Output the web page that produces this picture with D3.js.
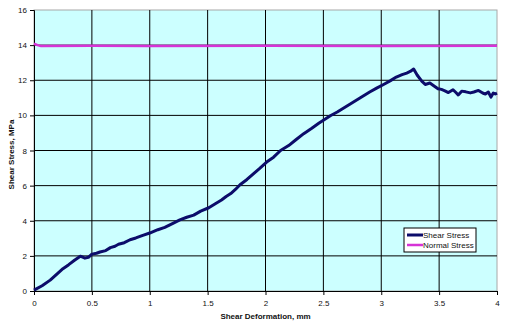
<!DOCTYPE html>
<html>
<head>
<meta charset="utf-8">
<script src="https://cdn.jsdelivr.net/npm/d3@7"></script>
<style>
  body { margin: 0; background: #fff; }
  svg { display: block; font-family: "Liberation Sans", Arial, sans-serif; }
  .tick text { font-size: 8px; fill: #111; }
  .axis-title { font-size: 8px; font-weight: bold; fill: #111; }
</style>
</head>
<body>
<div id="app"></div>
<script>
const MARGIN = { top: 10, right: 10, bottom: 36, left: 34 }
const OUTER = { width: 507, height: 327 }
const INNER = {
  width: OUTER.width - MARGIN.left - MARGIN.right,
  height: OUTER.height - MARGIN.top - MARGIN.bottom,
};

// shear deformation (mm) and shear stress (MPa)
const shearX = [0, 0.07, 0.14, 0.2, 0.25, 0.3, 0.35, 0.4, 0.44, 0.47, 0.5, 0.54, 0.57, 0.62, 0.66, 0.7, 0.73, 0.78,
  0.83, 0.88, 0.94, 1.0, 1.07, 1.13, 1.2, 1.26, 1.32, 1.38, 1.44, 1.51, 1.57, 1.62, 1.66, 1.7, 1.74, 1.78, 1.84, 1.9,
  1.95, 2.01, 2.07, 2.13, 2.2, 2.26, 2.33, 2.4, 2.46, 2.5, 2.56, 2.62, 2.69, 2.76, 2.83, 2.9, 2.96, 3.02, 3.08, 3.13,
  3.18, 3.22, 3.25, 3.28, 3.31, 3.35, 3.38, 3.42, 3.45, 3.49, 3.52, 3.55, 3.58, 3.62, 3.645, 3.665, 3.695, 3.73, 3.77,
  3.8, 3.84, 3.88, 3.9, 3.925, 3.948, 3.968, 3.985, 4.0];
const shearY = [0.05, 0.3, 0.62, 0.98, 1.27, 1.5, 1.75, 1.98, 1.87, 1.92, 2.1, 2.15, 2.22, 2.3, 2.47, 2.55, 2.66, 2.75,
  2.92, 3.02, 3.17, 3.3, 3.49, 3.62, 3.85, 4.05, 4.2, 4.32, 4.55, 4.74, 4.98, 5.18, 5.38, 5.55, 5.78, 6.05, 6.35, 6.7,
  6.98, 7.34, 7.62, 8.0, 8.28, 8.6, 8.96, 9.27, 9.55, 9.72, 9.98, 10.19, 10.48, 10.76, 11.05, 11.33, 11.55, 11.76,
  11.98, 12.18, 12.32, 12.41, 12.5, 12.64, 12.3, 11.95, 11.76, 11.84, 11.7, 11.52, 11.48, 11.4, 11.3, 11.46, 11.3,
  11.16, 11.38, 11.34, 11.28, 11.33, 11.42, 11.26, 11.22, 11.33, 11.04, 11.27, 11.22, 11.27];

// normal stress (MPa)
const normalX = [0, 0.03, 0.06, 0.5, 1, 2, 3, 4];
const normalY = [14.08, 14.0, 13.95, 13.96, 13.95, 13.96, 13.95, 13.96];

const X_TICKS = [0, 0.5, 1, 1.5, 2, 2.5, 3, 3.5, 4]
const Y_TICKS = [0, 2, 4, 6, 8, 10, 12, 14, 16]
const SERIES = ["Shear Stress", "Normal Stress"]
const COLORS = ["#0c0c6a", "#d633d6"]

const toPoints = (xs, ys) => xs.map((x, i) => ({ x, y: ys[i] }));

const xScale = d3.scaleLinear()
  .domain([0, 4])
  .range([0, INNER.width])

const yScale = d3.scaleLinear()
  .domain([0, 16])
  .range([INNER.height, 0])

const line = d3.line()
  .x(d => xScale(d.x))
  .y(d => yScale(d.y));

const svg = d3.select('#app')
  .append('svg')
  .attr('width', OUTER.width)
  .attr('height', OUTER.height);

const chart = svg.append('g')
  .attr('transform', `translate(${MARGIN.left}, ${MARGIN.top})`);

chart.append('rect')
  .attr('width', INNER.width)
  .attr('height', INNER.height)
  .attr('fill', '#ccffff')
  .attr('stroke', '#a8a8a8');

// grid
chart.append('g')
  .selectAll('line')
  .data(X_TICKS.slice(1, -1))
  .join('line')
  .attr('x1', d => xScale(d)).attr('x2', d => xScale(d))
  .attr('y1', 0).attr('y2', INNER.height)
  .attr('stroke', '#000');
chart.append('g')
  .selectAll('line')
  .data(Y_TICKS.slice(1, -1))
  .join('line')
  .attr('y1', d => yScale(d)).attr('y2', d => yScale(d))
  .attr('x1', 0).attr('x2', INNER.width)
  .attr('stroke', '#000');

const xAxis = chart.append('g')
  .attr('transform', `translate(0, ${INNER.height})`)
  .call(d3.axisBottom(xScale).tickValues(X_TICKS).tickSize(4).tickPadding(5).tickFormat(d3.format('')))
const yAxis = chart.append('g')
  .call(d3.axisLeft(yScale).tickValues(Y_TICKS).tickSize(4).tickPadding(3))
svg.selectAll('.domain').attr('stroke', '#000');
svg.selectAll('.tick line').attr('stroke', '#000');
svg.selectAll('.tick text').attr('font-family', null).attr('font-size', null);

chart.append('path')
  .datum(toPoints(normalX, normalY))
  .attr('fill', 'none')
  .attr('stroke', COLORS[1])
  .attr('stroke-width', 2.5)
  .attr('d', line);

chart.append('path')
  .datum(toPoints(shearX, shearY))
  .attr('fill', 'none')
  .attr('stroke', COLORS[0])
  .attr('stroke-width', 3)
  .attr('stroke-linejoin', 'round')
  .attr('d', line);

// axis titles
svg.append('text')
  .attr('class', 'axis-title')
  .attr('x', MARGIN.left + INNER.width / 2)
  .attr('y', 319)
  .attr('text-anchor', 'middle')
  .text('Shear Deformation, mm');
svg.append('text')
  .attr('class', 'axis-title')
  .attr('transform', `translate(14, ${MARGIN.top + INNER.height / 2 + 4}) rotate(-90)`)
  .attr('text-anchor', 'middle')
  .text('Shear Stress, MPa');

// legend
const legend = svg.append('g')
  .attr('transform', 'translate(404, 228)');
legend.append('rect')
  .attr('width', 72)
  .attr('height', 24)
  .attr('fill', '#fff')
  .attr('stroke', '#000');
SERIES.forEach((name, i) => {
  const row = legend.append('g').attr('transform', `translate(0, ${7 + i * 10})`);
  row.append('line')
    .attr('x1', 3).attr('x2', 19)
    .attr('stroke', COLORS[i])
    .attr('stroke-width', i === 0 ? 3 : 2.5);
  row.append('text')
    .attr('x', 19).attr('y', 3)
    .attr('font-size', 8)
    .attr('fill', '#111')
    .text(name);
});
</script>
</body>
</html>
